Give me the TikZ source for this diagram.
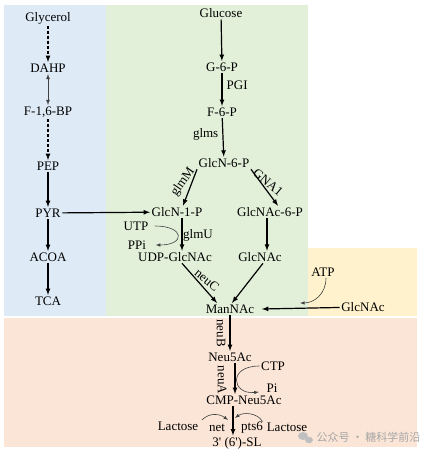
\documentclass[tikz,border=0pt]{standalone}
\usepackage{fontspec}
\setmainfont{Liberation Serif}
\newfontfamily\tnr{Liberation Serif}
\newfontfamily\cjk{Noto Sans CJK SC}
\usepackage{xcolor}
\usetikzlibrary{arrows,positioning,calc}

\definecolor{bgblue}{HTML}{DEEBF7}
\definecolor{bggreen}{HTML}{E2F0D9}
\definecolor{bgyellow}{HTML}{FFF2CC}
\definecolor{bgred}{HTML}{FBE5D6}

\begin{document}
\begin{tikzpicture}[
    x=1pt, y=-1pt,
    met/.style={font=\tnr\fontsize{13}{15}\selectfont, inner sep=1.5pt},
    enz/.style={font=\tnr\fontsize{13}{15}\selectfont, inner sep=0.5pt},
    arrow/.style={-latex, line width=1.2pt},
    dasharrow/.style={-latex, line width=1.2pt, dash pattern=on 3pt off 2pt},
    thinarrow/.style={-latex, line width=0.6pt, black!75}
]
    \useasboundingbox (0,0) rectangle (426,455);

    % Backgrounds
    \fill[bgblue] (4,5) rectangle (106,316);
    \fill[bggreen] (106,5) rectangle (308,316);
    \fill[bgyellow] (308,248) rectangle (417,316);
    \fill[bgred] (4,318) rectangle (417,447);

    % Glycerol branch
    \node[met] (glycerol) at (48,18) {Glycerol};
    \node[met] (dahp) at (48,68) {DAHP};
    \node[met] (f16bp) at (48,112) {F-1,6-BP};
    \node[met] (pep) at (48,166) {PEP};
    \node[met] (pyr) at (48,213) {PYR};
    \node[met] (acoa) at (48,257) {ACOA};
    \node[met] (tca) at (48,301) {TCA};
    \draw[dasharrow] (glycerol) -- (dahp);
    \draw[latex-latex, line width=0.8pt, black!75] (dahp) -- (f16bp);
    \draw[dasharrow] (f16bp) -- (pep);
    \draw[arrow] (pep) -- (pyr);
    \draw[arrow] (pyr) -- (acoa);
    \draw[arrow] (acoa) -- (tca);

    % Glucose branch
    \node[met] (glucose) at (221,13) {Glucose};
    \node[met] (g6p) at (222,67) {G-6-P};
    \node[met] (f6p) at (222,112) {F-6-P};
    \node[met] (glcn6p) at (224,163) {GlcN-6-P};
    \node[enz, anchor=west] (pgi) at (226,85) {PGI};
    \node[enz, anchor=east] (glms) at (219,134) {glms};
    \draw[arrow] (glucose) -- (g6p);
    \draw[arrow] (g6p) -- (f6p);
    \draw[arrow] (f6p) -- (glcn6p);

    \node[met] (glcn1p) at (177,212) {GlcN-1-P};
    \node[met] (glcnac6p) at (270,212) {GlcNAc-6-P};
    \node[enz, rotate=55] (glmm) at (183,182) {glmM};
    \node[enz, rotate=-40] (gna1) at (268,182) {GNA1};
    \draw[arrow] (glcn6p.south west) -- ([xshift=6pt]glcn1p.north);
    \draw[arrow] (glcn6p.south east) -- ([xshift=8pt]glcnac6p.north);
    \draw[arrow] (pyr) -- (glcn1p);

    \node[met] (udp) at (175,257) {UDP-GlcNAc};
    \node[met] (glcnacg) at (260,257) {GlcNAc};
    \node[met] (utp) at (136,226) {UTP};
    \node[met] (ppi) at (137,245) {PPi};
    \node[enz] (glmu) at (198,235) {glmU};
    \draw[arrow] ([xshift=5pt]glcn1p.south) -- ([xshift=7pt]udp.north);
    \draw[arrow] ([xshift=-3pt]glcnac6p.south) -- ([xshift=7pt]glcnacg.north);
    \draw[thinarrow] ([xshift=5pt]utp.east) .. controls +(30,0) and +(30,0) .. ([xshift=8pt]ppi.east);

    % ManNAc
    \node[met] (mannac) at (230,309) {ManNAc};
    \node[enz, rotate=-40] (neuc) at (207,280) {neuC};
    \draw[arrow] ([xshift=7pt]udp.south) -- ([xshift=-13pt]mannac.north);
    \draw[arrow] ([xshift=3pt]glcnacg.south) -- ([xshift=2pt]mannac.north);

    % GlcNAc feed
    \node[met] (glcnacy) at (363,307) {GlcNAc};
    \node[met] (atp) at (323,272) {ATP};
    \coordinate (atpend) at (300,303);
    \draw[arrow] (glcnacy) -- ([xshift=6pt]mannac.east);
    \draw[thinarrow] ([xshift=3pt]atp.south) .. controls +(0,16) and +(14,0) .. (atpend);

    % Sialic acid
    \node[met] (neu5ac) at (230,357) {Neu5Ac};
    \node[met] (cmp) at (244,400) {CMP-Neu5Ac};
    \node[enz, rotate=-90] (neub) at (221,333) {neuB};
    \node[enz, rotate=-90] (neua) at (222,380) {neuA};
    \node[met] (ctp) at (273,366) {CTP};
    \node[met] (pi) at (272,388) {Pi};
    \draw[arrow] (mannac.south) -- (neu5ac);
    \draw[arrow] ([xshift=5pt]neu5ac.south) -- ([xshift=-9pt]cmp.north);
    \draw[thinarrow] (ctp.west) .. controls +(-32,0) and +(-27,3) .. ([xshift=-6pt,yshift=-4pt]pi.west);

    % Sialyllactose
    \node[met] (sl) at (237,443) {3' (6')-SL};
    \node[met] (lacl) at (178,426) {Lactose};
    \node[enz] (net) at (217,428) {net};
    \node[enz] (pts6) at (252,428) {pts6};
    \node[met] (lacr) at (287,427) {Lactose};
    \coordinate (lacLend) at (228,420);
    \coordinate (lacRend) at (235,418);
    \draw[arrow] ([xshift=-11pt]cmp.south) -- ([xshift=-4pt]sl.north);
    \draw[thinarrow] ([xshift=2pt]lacl.north east) .. controls +(8,-8) and +(-8,-6) .. (lacLend);
    \draw[thinarrow] ([xshift=-1pt]pts6.north east) .. controls +(-5,-9) and +(8,-6) .. (lacRend);

    % Watermark
    \fill[black!25] (303,436) ellipse (5pt and 4pt);
    \fill[black!25] (309,440) ellipse (4pt and 3.2pt);
    \node[font=\cjk\fontsize{11}{13}\selectfont, text=black!35, anchor=west] (mark) at (313,437) {公众号 · 糖科学前沿};
\end{tikzpicture}
\end{document}
